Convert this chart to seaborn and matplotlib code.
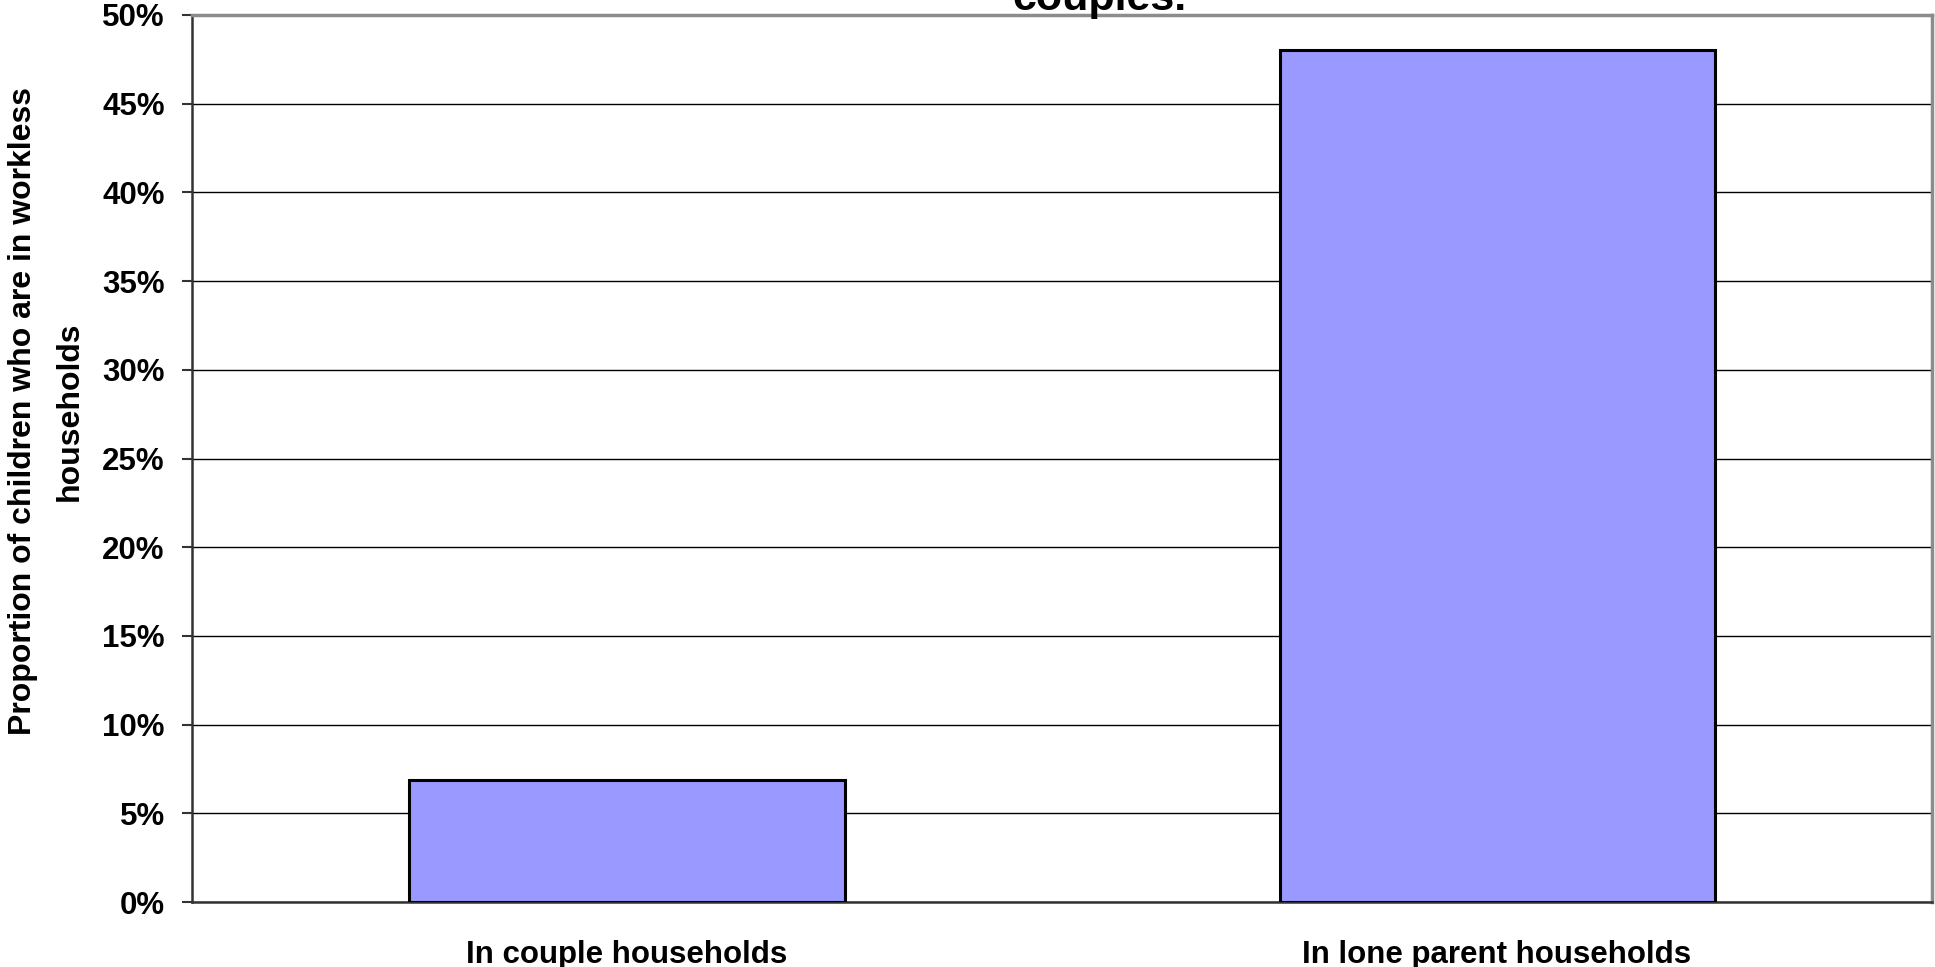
import matplotlib
matplotlib.use('Agg')
import matplotlib.pyplot as plt
import seaborn as sns
import pandas as pd
from matplotlib.ticker import FuncFormatter, MultipleLocator, FixedLocator

# data
categories = ['In couple households', 'In lone parent households']
workless_share = [6.9, 48.0]
title_tail = 'couples.'
y_label = 'Proportion of children who are in workless\nhouseholds'

sns.set_style('white')
plt.rcParams['font.family'] = ['Liberation Sans', 'DejaVu Sans']
plt.rcParams['font.weight'] = 'bold'
plt.rcParams['text.color'] = 'black'
plt.rcParams['axes.labelcolor'] = 'black'
plt.rcParams['xtick.color'] = 'black'
plt.rcParams['ytick.color'] = 'black'

df = pd.DataFrame({'group': categories, 'share': workless_share})

fig = plt.figure(figsize=(19.35, 9.67), dpi=100)
ax = fig.add_axes([0.0992, 0.0672, 0.8993, 0.9173])

sns.barplot(data=df, x='group', y='share', color='#9999FF', saturation=1,
            edgecolor='black', linewidth=2.2, width=0.5, ax=ax, zorder=3)

ax.set_ylim(0, 50)
ax.set_xlim(-0.5, 1.5)
ax.yaxis.set_major_locator(MultipleLocator(5))
ax.yaxis.set_major_formatter(FuncFormatter(lambda v, p: f'{v:.0f}%'))
ax.grid(axis='y', color='black', linewidth=1.0, zorder=0)
ax.set_axisbelow(True)

# category labels without ticks, separator tick between them
ax.tick_params(axis='x', which='major', length=0, pad=27, labelsize=22.5,
               labelcolor='black')
ax.xaxis.set_minor_locator(FixedLocator([0.5]))
ax.tick_params(axis='x', which='minor', length=8, width=1.5, color='#333333', direction='out')
ax.tick_params(axis='y', length=7.5, width=1.5, color='#333333', direction='out',
               pad=12, labelsize=22.5, left=True, labelcolor='black')
for lab in ax.get_xticklabels() + ax.get_yticklabels():
    lab.set_fontweight('bold')

ax.set_xlabel('')
ax.set_ylabel(y_label, fontsize=23, fontweight='bold', linespacing=1.75, color='black')
ax.yaxis.set_label_coords(-0.0615, 0.553)

for side in ['left', 'bottom']:
    ax.spines[side].set_color('#333333')
    ax.spines[side].set_linewidth(1.8)
for side in ['top', 'right']:
    ax.spines[side].set_visible(True)
    ax.spines[side].set_color('#8c8c8c')
    ax.spines[side].set_linewidth(2.5)

# the title runs off the top of the image; only its last line shows
fig.text(1100 / 1935, 1 - 10 / 967, title_tail, ha='center', va='baseline',
         fontsize=31, fontweight='bold', color='black')

fig.savefig('out.png', dpi=100)
